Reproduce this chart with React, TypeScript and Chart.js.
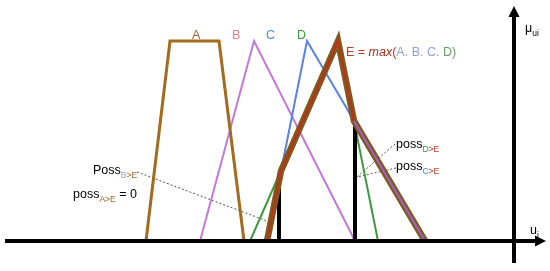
import React, { useEffect, useRef } from "react";
import { Chart, registerables } from "chart.js";
Chart.register(...registerables);

// Membership functions: u positions and membership degrees
const A_U = [146, 170, 219, 244];
const A_MU = [0, 1, 1, 0];
const B_U = [200, 254, 355];
const B_MU = [0, 1, 0];
const C_U = [267, 307, 425];
const C_MU = [0, 1, 0];
const D_U = [250, 338, 378];
const D_MU = [0, 1, 0];
const E_U = [267, 281, 338, 354, 425];
const E_MU = [0, 0.35, 1, 0.6, 0];
// possibility bars
const POSS_U = [279, 355];
const POSS_MU = [0.33, 0.6];
// leader lines
const LEAD1_U = [137, 275];
const LEAD1_MU = [0.345, 0.085];
const LEAD2_U = [395, 357];
const LEAD2_MU = [0.485, 0.32];
const LEAD3_U = [396, 357];
const LEAD3_MU = [0.365, 0.32];

const FONT = '"Liberation Sans", Arial, Helvetica, sans-serif';

type Part = { t: string; c: string; s?: number; it?: boolean; sub?: boolean };
type Label = { u: number; mu: number; parts: Part[] };

const LABELS: Label[] = [
  { u: 192, mu: 1.01, parts: [{ t: "A", c: "#a0662a" }] },
  { u: 232, mu: 1.01, parts: [{ t: "B", c: "#f08080" }] },
  { u: 266, mu: 1.01, parts: [{ t: "C", c: "#4a8ae0" }] },
  { u: 297, mu: 1.01, parts: [{ t: "D", c: "#3a9a3a" }] },
  {
    u: 346,
    mu: 0.925,
    parts: [
      { t: "E = ", c: "#c0392b" },
      { t: "max", c: "#a0301f", it: true },
      { t: "(", c: "#c0392b" },
      { t: "A. B. C. ", c: "#8fa0d8" },
      { t: "D)", c: "#6a9a6a" },
    ],
  },
  { u: 525, mu: 1.045, parts: [{ t: "μ", c: "#000" }, { t: "ui", c: "#000", sub: true }] },
  { u: 530, mu: 0.035, parts: [{ t: "u", c: "#000" }, { t: "i", c: "#000", sub: true }] },
  {
    u: 93,
    mu: 0.335,
    parts: [
      { t: "Poss", c: "#000" },
      { t: "B", c: "#8fa0d8", sub: true },
      { t: ">E", c: "#a0662a", sub: true },
    ],
  },
  {
    u: 73,
    mu: 0.215,
    parts: [
      { t: "poss", c: "#000" },
      { t: "A>E", c: "#a0662a", sub: true },
      { t: " = 0", c: "#000" },
    ],
  },
  {
    u: 396,
    mu: 0.465,
    parts: [
      { t: "poss", c: "#000" },
      { t: "D", c: "#3a9a3a", sub: true },
      { t: ">E", c: "#c0392b", sub: true },
    ],
  },
  {
    u: 396,
    mu: 0.355,
    parts: [
      { t: "poss", c: "#000" },
      { t: "C", c: "#4a8ae0", sub: true },
      { t: ">E", c: "#c0392b", sub: true },
    ],
  },
];

// axis extents (data units)
const AXIS_U = [5, 546];
const AXIS_MU = [-0.11, 1.175];
const V_AXIS_U = 514;

const pts = (u: number[], mu: number[]) => u.map((x, i) => ({ x, y: mu[i] }));

const overlay = {
  id: "overlay",
  afterDatasetsDraw(chart: any) {
    const { ctx, scales } = chart;
    const xs = scales.x;
    const ys = scales.y;
    ctx.save();
    // axes
    ctx.strokeStyle = "#000";
    ctx.fillStyle = "#000";
    ctx.lineWidth = 4;
    const y0 = ys.getPixelForValue(0);
    const xL = xs.getPixelForValue(AXIS_U[0]);
    const xR = xs.getPixelForValue(AXIS_U[1]);
    ctx.beginPath();
    ctx.moveTo(xL, y0);
    ctx.lineTo(xR - 8, y0);
    ctx.stroke();
    ctx.beginPath();
    ctx.moveTo(xR, y0);
    ctx.lineTo(xR - 11, y0 - 5.5);
    ctx.lineTo(xR - 11, y0 + 5.5);
    ctx.closePath();
    ctx.fill();
    const xv = xs.getPixelForValue(V_AXIS_U);
    const yB = ys.getPixelForValue(AXIS_MU[0]);
    const yT = ys.getPixelForValue(AXIS_MU[1]);
    ctx.beginPath();
    ctx.moveTo(xv, yB);
    ctx.lineTo(xv, yT + 8);
    ctx.stroke();
    ctx.beginPath();
    ctx.moveTo(xv, yT);
    ctx.lineTo(xv - 5.5, yT + 11);
    ctx.lineTo(xv + 5.5, yT + 11);
    ctx.closePath();
    ctx.fill();
    // labels
    ctx.textBaseline = "alphabetic";
    for (const l of LABELS) {
      let cx = xs.getPixelForValue(l.u);
      const by = ys.getPixelForValue(l.mu);
      for (const p of l.parts) {
        const size = p.sub ? 8.5 : 12.5;
        ctx.font = `${p.it ? "italic " : ""}${size}px ${FONT}`;
        ctx.fillStyle = p.c;
        ctx.fillText(p.t, cx, by + (p.sub ? 3.5 : 0));
        cx += ctx.measureText(p.t).width;
      }
    }
    ctx.restore();
  },
};

export default function App() {
  const ref = useRef<HTMLCanvasElement | null>(null);
  useEffect(() => {
    if (!ref.current) return;
    const line = (data: any, color: string, width: number, order: number, extra: any = {}) => ({
      data,
      borderColor: color,
      backgroundColor: color,
      borderWidth: width,
      showLine: true,
      pointRadius: 0,
      tension: 0,
      fill: false,
      order,
      borderJoinStyle: "miter",
      ...extra,
    });
    const chart = new Chart(ref.current, {
      type: "scatter",
      data: {
        datasets: [
          line(pts(LEAD1_U, LEAD1_MU), "#555", 1, 9, { borderDash: [2, 2] }),
          line(pts(LEAD2_U, LEAD2_MU), "#555", 1, 9, { borderDash: [2, 2] }),
          line(pts(LEAD3_U, LEAD3_MU), "#555", 1, 9, { borderDash: [2, 2] }),
          line(pts(B_U, B_MU), "#c27ad6", 2, 8),
          line(pts(C_U, C_MU), "#5a82e0", 2, 7),
          line(pts(D_U, D_MU), "#3f9a3f", 2, 6),
          line(pts(A_U, A_MU), "#a26b1e", 3, 5),
          line(pts([POSS_U[0], POSS_U[0]], [0, POSS_MU[0]]), "#000", 4, 4, { borderCapStyle: "butt" }),
          line(pts([POSS_U[1], POSS_U[1]], [0, POSS_MU[1]]), "#000", 4, 4, { borderCapStyle: "butt" }),
          line(pts(E_U, E_MU), "#7e5a1c", 6.5, 3),
          line(pts(E_U, E_MU), "#b8321e", 2, 2, {
            segment: {
              borderColor: (c: any) => (c.p0DataIndex >= 3 ? "#a45ec8" : "#b8321e"),
            },
          }),
        ],
      },
      options: {
        animation: false,
        responsive: false,
        maintainAspectRatio: false,
        layout: { padding: 0 },
        plugins: { legend: { display: false }, tooltip: { enabled: false }, title: { display: false } },
        scales: {
          x: { type: "linear", min: 0, max: 550, display: false },
          y: { type: "linear", min: -0.15, max: 1.205, display: false },
        },
      },
      plugins: [overlay],
    } as any);
    return () => chart.destroy();
  }, []);
  return (
    <div style={{ position: "fixed", left: 0, top: 0, width: 550, height: 271, background: "#fff" }}>
      <canvas ref={ref} width={550} height={271} style={{ width: 550, height: 271, display: "block" }} />
    </div>
  );
}
